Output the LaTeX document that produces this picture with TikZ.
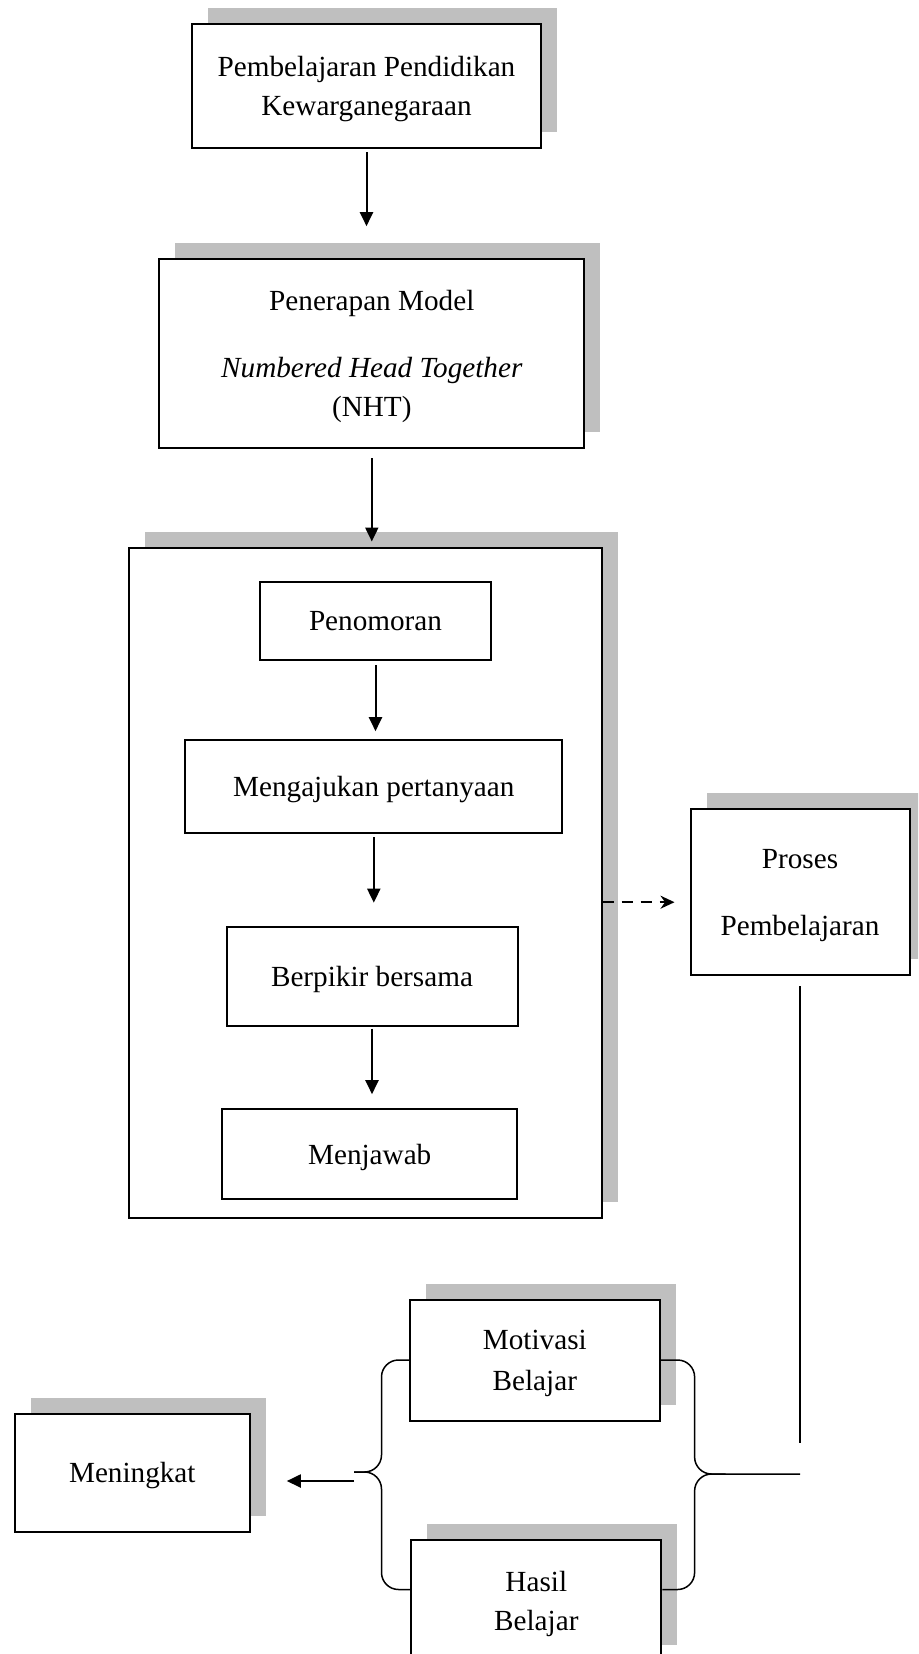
\documentclass[tikz,border=0pt]{standalone}
\usepackage{fontspec}
\setmainfont{Liberation Serif}
\usetikzlibrary{calc, positioning}
\usetikzlibrary{arrows.meta}
\usetikzlibrary{shadows}

\definecolor{bayang}{RGB}{191,191,191}

\tikzset{
  kotak/.style={draw, line width=2pt, fill=white, align=center, inner sep=0pt, text depth=0pt,
    drop shadow={shadow xshift=16pt, shadow yshift=16pt, fill=bayang, opacity=1}},
  kotakdalam/.style={draw, line width=2pt, fill=white, align=center, inner sep=0pt, text depth=0pt},
  panah/.style={line width=2pt, -{Triangle[length=14pt,width=13pt]}},
  kurung/.style={line width=1.5pt, rounded corners=17pt}
}

\begin{document}
\begin{tikzpicture}[x=1pt, y=-1pt, font=\fontsize{29.2}{39}\selectfont]
\useasboundingbox (0,0) rectangle (918,1654);
\clip (0,0) rectangle (918,1654);

% kolom tengah
\node[kotak, minimum width=349pt, minimum height=124pt] (pkn) at (366.5,86)
  {Pembelajaran Pendidikan\\Kewarganegaraan};
\node[kotak, minimum width=425pt, minimum height=189pt] (nht) at (371.8,353.7)
  {Penerapan Model\\[28pt]\textit{Numbered Head Together}\\(NHT)};

\node[kotak, minimum width=473pt, minimum height=670pt] (luar) at (365.2,882.5) {};
\node[kotakdalam, minimum width=231pt, minimum height=78pt] (nomor) at (375.5,621) {Penomoran};
\node[kotakdalam, minimum width=377pt, minimum height=93pt] (tanya) at (373.8,786.7) {Mengajukan pertanyaan};
\node[kotakdalam, minimum width=291pt, minimum height=99pt] (pikir) at (372,976.2) {Berpikir bersama};
\node[kotakdalam, minimum width=295pt, minimum height=90pt] (jawab) at (369.7,1154.2) {Menjawab};

% kanan dan bawah
\node[kotak, minimum width=219pt, minimum height=166pt] (proses) at (800,892.2)
  {Proses\\[28pt]Pembelajaran};
\node[kotak, minimum width=250pt, minimum height=121pt] (motivasi) at (534.8,1360)
  {Motivasi\\[2pt]Belajar};
\node[kotak, minimum width=250pt, minimum height=121pt] (hasil) at (536.3,1600.5)
  {Hasil\\Belajar};
\node[kotak, minimum width=235pt, minimum height=118pt] (naik) at (132.3,1472.5) {Meningkat};

\draw[panah, shorten <=3pt, shorten >=32pt] (pkn.south) -- (pkn.south |- nht.north);
\draw[panah, shorten <=9pt, shorten >=5pt] (nht.south) -- (nht.south |- luar.north);
\draw[panah, shorten <=4pt, shorten >=8pt] (nomor.south) -- (nomor.south |- tanya.north);
\draw[panah, shorten <=3pt, shorten >=23pt] (tanya.south) -- (tanya.south |- pikir.north);
\draw[panah, shorten <=2pt, shorten >=14pt] (pikir.south) -- (pikir.south |- jawab.north);

\coordinate (putus) at ([yshift=-10pt]proses.west);
\draw[line width=2pt, dash pattern=on 11pt off 8pt, -{Stealth[length=14pt,width=13pt]}, shorten >=15pt]
  (luar.east |- putus) -- (putus);

\coordinate (turun) at (800,1443);
\draw[line width=1.5pt, shorten <=10pt] (proses.south) -- (turun);

% kurung kurawal
\coordinate (kiri) at (354,1472);
\coordinate (kanan) at (725.6,1474);
\coordinate (sambung) at (800,1474);
\draw[kurung] (motivasi.west) -| ($(kiri)+(27.5,0)$) -- (kiri);
\draw[kurung] ([yshift=11pt]hasil.west) -| ($(kiri)+(27.5,0)$) -- (kiri);
\draw[kurung] (motivasi.east) -| ($(kanan)+(-31,0)$) -- (kanan) -- (sambung);
\draw[kurung] ([yshift=11pt]hasil.east) -| ($(kanan)+(-31,0)$) -- (kanan);

\coordinate (panahkiri) at (354,1481);
\draw[panah, shorten >=36pt] (panahkiri) -- (panahkiri -| naik.east);
\end{tikzpicture}
\end{document}
